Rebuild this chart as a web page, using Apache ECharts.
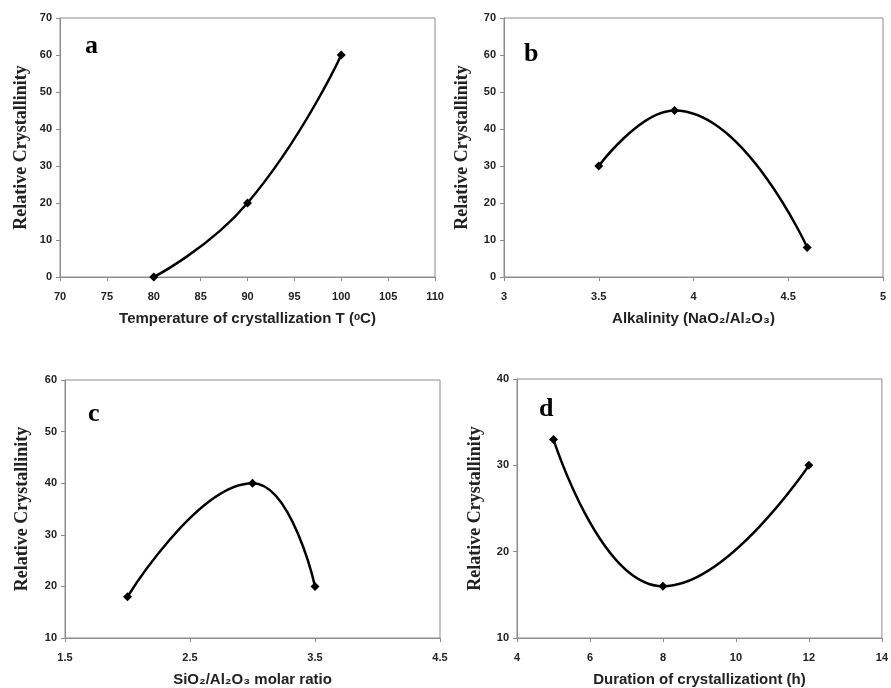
<!DOCTYPE html>
<html>
<head>
<meta charset="utf-8">
<script src="https://cdn.jsdelivr.net/npm/echarts@6/dist/echarts.min.js"></script>
<style>
  html, body { margin: 0; padding: 0; background: #fff; }
  #main { width: 891px; height: 688px; }
</style>
</head>
<body>
<div id="main"></div>
<script>
// panel a - temperature
var tempX = [80, 90, 100];
var tempY = [0, 20, 60];
// panel b - alkalinity
var alkX = [3.5, 3.9, 4.6];
var alkY = [30, 45, 8];
// panel c - SiO2/Al2O3 ratio
var ratioX = [2, 3, 3.5];
var ratioY = [18, 40, 20];
// panel d - duration
var timeX = [5, 8, 12];
var timeY = [33, 16, 30];

var xNames = [
  "Temperature of crystallization T (\u1D52C)",
  "Alkalinity (NaO\u2082/Al\u2082O\u2083)",
  "SiO\u2082/Al\u2082O\u2083 molar ratio",
  "Duration of crystallizationt (h)"
];
var letters = ["a", "b", "c", "d"];

var chart = echarts.init(document.getElementById("main"));

function pairs(xs, ys) {
  return xs.map(function (x, i) { return [x, ys[i]]; });
}

var gridPos = [
  { left: 60, top: 18, width: 375, height: 259 },
  { left: 504, top: 18, width: 379, height: 259 },
  { left: 65, top: 380, width: 375, height: 259 },
  { left: 517, top: 379, width: 376, height: 259 }
];
var xRange = [[70, 110, 5], [3, 5, 0.5], [1.5, 4.5, 1], [4, 14, 2]];
var yRange = [[0, 70, 10], [0, 70, 10], [10, 60, 10], [10, 40, 10]];
var yGap = [30, 33, 34, 33];

var tickFont = {
  color: "#222",
  fontWeight: "bold",
  fontSize: 11,
  fontFamily: "Liberation Sans"
};

var grids = [], xAxes = [], yAxes = [], series = [];
for (var i = 0; i < 4; i++) {
  grids.push(Object.assign({ show: true, borderColor: "#8c8c8c", borderWidth: 1 }, gridPos[i]));
  xAxes.push({
    type: "value",
    gridIndex: i,
    min: xRange[i][0],
    max: xRange[i][1],
    interval: xRange[i][2],
    name: xNames[i],
    nameLocation: "middle",
    nameGap: 34,
    nameTextStyle: {
      color: "#222",
      fontWeight: "bold",
      fontSize: 15,
      fontFamily: "Liberation Sans Narrow, Liberation Sans"
    },
    splitLine: { show: false },
    axisLine: { lineStyle: { color: "#8c8c8c" } },
    axisTick: { inside: false, length: 4, lineStyle: { color: "#8c8c8c" } },
    axisLabel: Object.assign({ margin: 14, showMaxLabel: true, showMinLabel: true }, tickFont)
  });
  yAxes.push({
    type: "value",
    gridIndex: i,
    min: yRange[i][0],
    max: yRange[i][1],
    interval: yRange[i][2],
    name: "Relative Crystallinity",
    nameLocation: "middle",
    nameGap: yGap[i],
    nameRotate: 90,
    nameTextStyle: {
      color: "#222",
      fontWeight: "bold",
      fontSize: 18,
      fontFamily: "Liberation Serif"
    },
    splitLine: { show: false },
    axisLine: { lineStyle: { color: "#8c8c8c" } },
    axisTick: { inside: false, length: 4, lineStyle: { color: "#8c8c8c" } },
    axisLabel: Object.assign({ margin: 8 }, tickFont)
  });
}

var dataSets = [pairs(tempX, tempY), pairs(alkX, alkY), pairs(ratioX, ratioY), pairs(timeX, timeY)];
dataSets.forEach(function (d, i) {
  series.push({
    type: "line",
    xAxisIndex: i,
    yAxisIndex: i,
    data: d,
    smooth: 0.5,
    symbol: "diamond",
    symbolSize: 9,
    lineStyle: { color: "#000", width: 2.5 },
    itemStyle: { color: "#000" }
  });
});

var letterPos = [[85, 33], [524, 41], [88, 401], [539, 396]];
var graphics = letters.map(function (l, i) {
  return {
    type: "text",
    left: letterPos[i][0],
    top: letterPos[i][1],
    style: {
      text: l,
      fill: "#000",
      font: "bold 26px 'Liberation Serif'"
    }
  };
});

chart.setOption({
  animation: false,
  backgroundColor: "#fff",
  grid: grids,
  xAxis: xAxes,
  yAxis: yAxes,
  series: series,
  graphic: graphics
});
</script>
</body>
</html>
